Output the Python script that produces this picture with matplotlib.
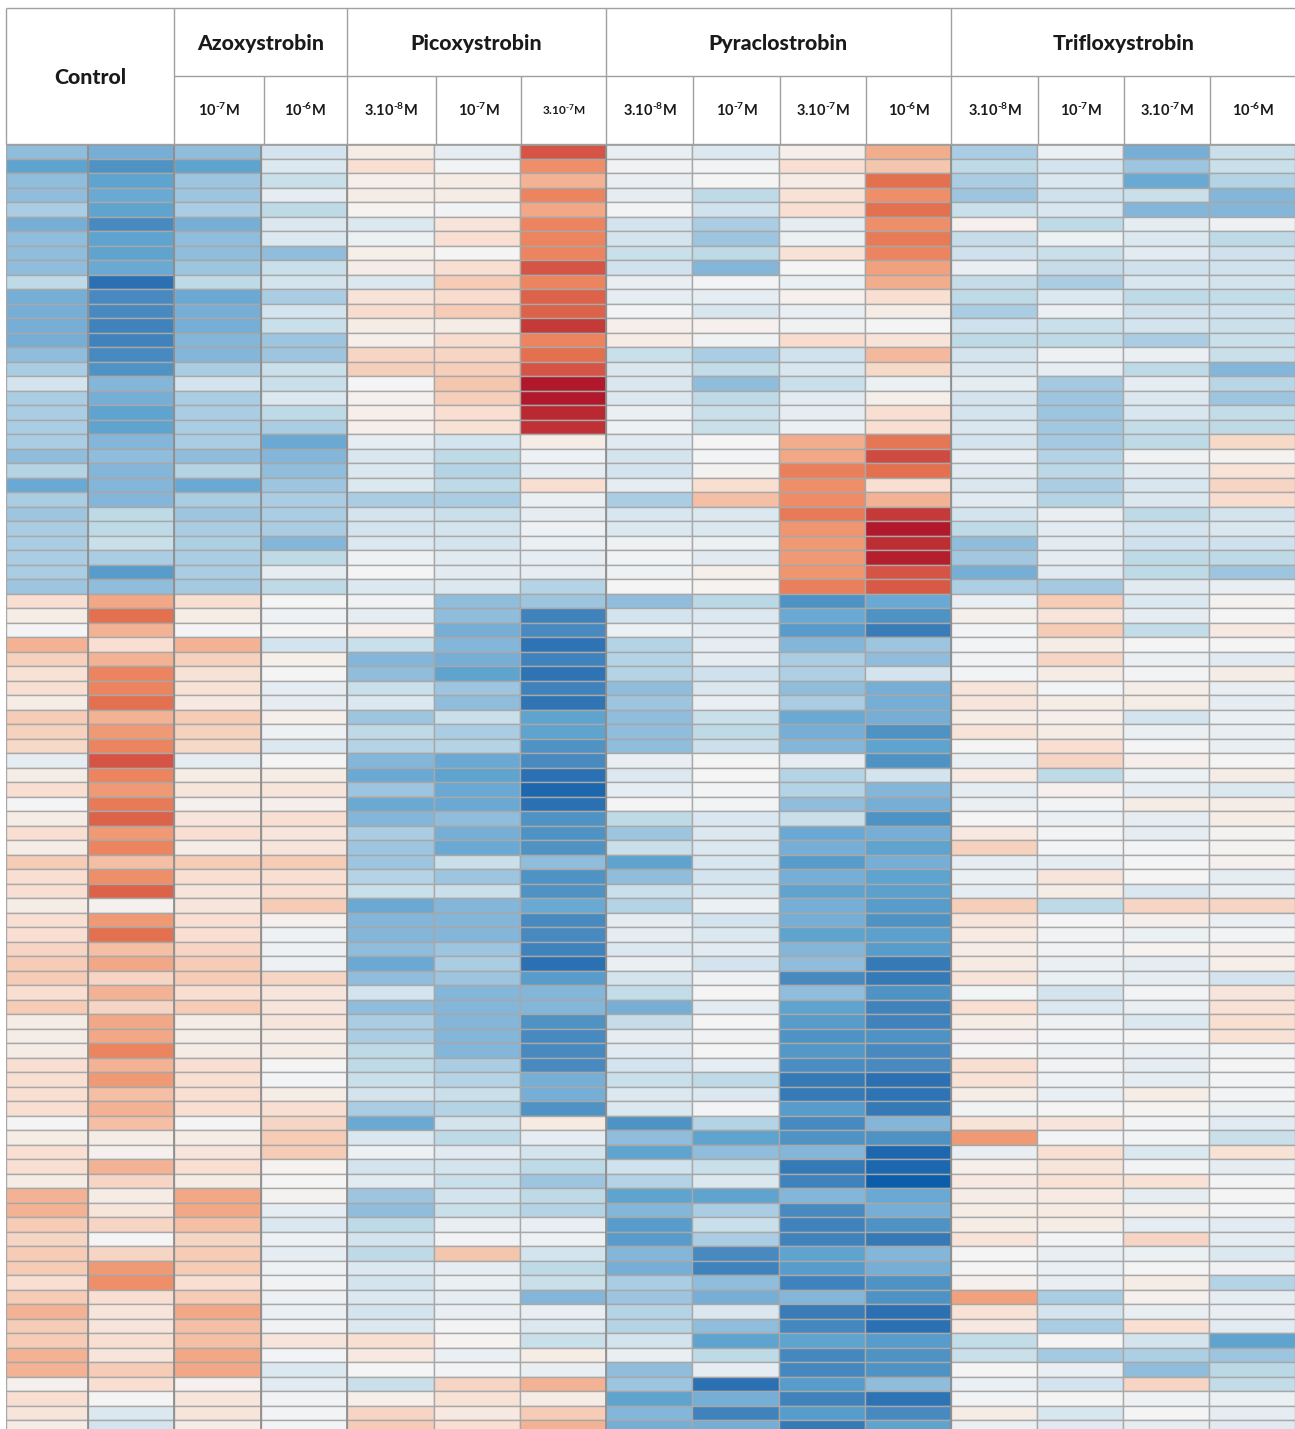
import numpy as np
import matplotlib
matplotlib.use("Agg")
import matplotlib.pyplot as plt
from matplotlib.colors import LinearSegmentedColormap, Normalize

W, H = 1295, 1429
plt.rcParams['font.family'] = ['Lato', 'DejaVu Sans']
plt.rcParams['mathtext.fontset'] = 'custom'
plt.rcParams['mathtext.rm'] = 'Lato:bold'
plt.rcParams['mathtext.bf'] = 'Lato:bold'
plt.rcParams['mathtext.default'] = 'rm'

groups = ["Control", "Azoxystrobin", "Picoxystrobin", "Pyraclostrobin", "Trifloxystrobin"]
dose_labels = [r"10$^{\text{-7}}$M", r"10$^{\text{-6}}$M", r"3.10$^{\text{-8}}$M", r"10$^{\text{-7}}$M", r"3.10$^{\text{-7}}$M",
               r"3.10$^{\text{-8}}$M", r"10$^{\text{-7}}$M", r"3.10$^{\text{-7}}$M", r"10$^{\text{-6}}$M",
               r"3.10$^{\text{-8}}$M", r"10$^{\text{-7}}$M", r"3.10$^{\text{-7}}$M", r"10$^{\text{-6}}$M"]

control_1 = [-5,-7,-5,-5,-4,-6,-5,-5,-5,-3,-6,-6,-6,-6,-5,-4,-2,-4,-4,-4,-4,-5,
 -3.5,-6.5,-4,-4.5,-4,-4,-4,-4,-4.5,2,1,0,4,2.7,1.8,2,1,3,2.7,2.3,
 -1,1,2,0,1,2,1,3,2,2,1,2,2,2.5,3,3,2,3,1,1,1,2,2,
 2,2,0,1,2,2,1,4,4,3,2.5,3,3,2,3,4,3,3,4,4,0.5,2,1.5,1]
control_2 = [-6,-8,-7,-6.5,-7,-8.5,-7,-7,-6.5,-10,-8.5,-8.5,-9,-9,-8.5,-8,-5.5,-6,-7,-7,-5.5,-5,
 -5.5,-5.5,-5.5,-3,-3,-2.5,-4,-7.5,-5,4.5,7,4,2,4,6,6,7,4,5,6,
 8,6,5,6.5,7.5,5,6,3.5,5.5,7.5,0.5,5,7,3.5,4.5,2.5,4,2.5,4.5,4.5,6,4,5,
 3.5,4,3.5,1,0.5,4,2.5,1,1.5,2.5,0,2.5,5,5.5,2,1.5,1.5,2,1.5,3,2,0,-1.5,-2]
azoxy_7 = [-5,-7,-4.5,-4.5,-4,-6,-5,-5,-4.5,-3,-6.5,-6,-6,-5.5,-5.5,-4,-2,-4,-4,-4,-4,-5,
 -3.5,-6.5,-4,-4.5,-4,-3.8,-4,-4,-4.2,2,1,0,4,2.7,1.8,1.8,1.3,3,2.7,2.3,
 -1,1,1.5,0.5,1.5,2,1,3,2,1.5,1.5,2,2,2.5,3,3,2,3,1,1,1,2,2,
 2,2,0,1,1.5,2,1,4.5,4.5,3.5,2.5,3,3,2,3,4.5,3.5,3.5,4.5,4.5,0.5,1.5,1.5,1]
azoxy_6 = [-2,-1.5,-2.5,-1,-3,-1.5,-1.5,-5,-2.5,-2,-4,-2,-2.5,-4.5,-4.5,-2.5,-2.5,-1.5,-3,-4,-6.5,-5.5,
 -5,-4.5,-4,-4,-4,-5.5,-3,-1,-3,0,-0.5,0,-2,0.8,0,-1,-1,0.8,-0.5,-1.5,
 0,1,1.5,0.7,2,1.5,1.5,3,2,2,3,0.5,-0.5,-0.5,-0.5,2.5,1.5,1.5,1.5,1,1,0,-0.2,
 1,2,2.5,3,3,0.3,0,0.2,-1,-1.5,-0.5,-1,-0.5,-0.3,-0.5,-0.7,-0.3,1.5,-0.2,-1.5,-1.2,-0.3,-0.2,-0.1]
pico_8 = [1,2,0.7,1,0.3,-1.5,-0.6,0.8,0.9,-1.5,1.7,2.2,1,0.8,2.5,2.8,0,0.5,0.8,0.7,-1,-1.8,
 -1.7,-1.5,-4,-2,-2,-1.5,-0.5,0,-1.5,-0.3,-1,0.7,-2.5,-5.5,-5,-2.5,-1.5,-4.5,-3,-3.5,
 -5.5,-6.5,-4.5,-6.5,-5.5,-4,-4.5,-4.5,-3.5,-2.5,-6.5,-5.5,-5.5,-5,-6.5,-5,-2,-5,-4,-4,-3,-3,-2.5,
 -2,-4,-6.5,-1.7,-0.5,-2,-1.2,-4.5,-5,-3,-2,-3,-1.5,-2,-1.5,-2,-1.5,2,1.3,0,-2.5,0.8,2.5,3]
pico_7 = [-1,-0.2,1,1,-0.3,1.5,2,0,2,3,2.2,3,1,2.2,2.5,2.8,3.2,2.8,2,1.8,-2,-3,
 -3.5,-3,-4,-2.5,-2,-2,-1.3,-1.2,-1.5,-5,-5,-6,-5.5,-6,-7,-4.5,-5,-2.5,-4,-3.5,
 -6.5,-7,-6.5,-6.5,-5,-6,-6.5,-2.5,-4.5,-2.5,-5.5,-5.5,-5.5,-4.5,-4,-4.5,-5.5,-5.5,-5.5,-5.5,-5.5,-4,-3.5,
 -2.5,-3.5,-2,-3,-1.3,-2,-2.5,-2,-2.5,-0.8,-0.3,3.2,-1,-0.7,-1,-0.8,-0.2,0.3,-0.7,-0.2,2.5,1.8,1.3,2]
pico_3_7 = [8,5.5,4,6,4.5,6,6,6,8,6,7.5,7.5,9,6,7,8,10,10,9.5,9.2,1,-0.5,
 -1,2,-0.7,-1,-0.5,-0.7,-1,-1,-3.5,-4.5,-9,-8.5,-9.8,-9,-9.8,-9,-9.7,-7,-7,-8,
 -8.5,-10,-10.5,-10,-8,-8,-8,-5,-8,-8,-6.5,-8.5,-8.5,-9,-10,-7.5,-5.5,-5.5,-8,-8.5,-8.5,-8.5,-6,
 -6,-8,1.2,-1,-2,-3,-4.5,-3,-3.5,-0.8,-0.5,-2,-3,-2.5,-5.5,-0.8,-1.5,-2.5,1,-0.8,4,1,3,4]
pyra_8 = [-0.8,-0.3,-0.8,-1,-0.2,-2,-2,-2.5,-2.2,-0.8,-1,-0.1,0.7,1,-2.5,-1.7,-1.7,-1.5,-0.7,-0.5,-1.3,-2,
 -2,-1,-4,-1.8,-1.5,-0.5,-0.3,-0.5,0,-5,-2,-0.6,-3.5,-3.5,-3.5,-5,-4.5,-5,-5,-5,
 -0.9,-1.5,-1,0,-3,-4.5,-2.5,-7,-5,-2.5,-3.5,-1,-1,-1.5,-0.7,-2,-2.8,-6,-2.7,-1,-1.3,-2,-2.5,
 -1.5,-1.5,-8,-5,-7,-2.2,-3.5,-7,-5.5,-7.5,-7.5,-5.5,-6,-4,-4.5,-3.5,-3.5,-2,-0.9,-5,-4.5,-7,-5.5,-6]
pyra_7 = [-1.5,-0.2,0,-3,-2.2,-4,-4.5,-3,-5.5,-0.2,-1,-1.8,0.5,-0.4,-4,-2.8,-5,-3,-2.5,-2.5,0,-0.2,
 0.2,2,3.5,-1.5,-1.5,-0.6,-1.3,0.8,0.3,-3.2,-1.5,-1,-1,-1,-2.3,-1.7,-0.8,-2.5,-3,-2.4,
 0,0,-0.1,-0.2,-1.6,-1.5,-1.5,-1.8,-2,-1.7,-0.6,-2,-1.5,-1.2,-2,-0.5,0,-1.2,0,-0.4,0,-1,-3,
 -1.5,-0.2,-3.5,-7,-5,-2.5,-1.5,-7,-4,-2.5,-4,-8.5,-9,-5,-6,-1.7,-5,-7,-3,-1,-10,-6,-9,-6]
pyra_3_7 = [0.7,2,1,1.8,2,-1,-0.6,1.8,0,-0.7,0.5,-0.8,-0.4,2.2,-2.2,-1.8,-2.5,-1.2,-1,-0.6,4.2,4.5,
 6.3,5.5,5.7,6.5,5.3,5,5,5.3,6.3,-8,-6.5,-7.5,-5.5,-4,-3.7,-5,-4,-6.5,-6,-5.5,
 -1,-3.5,-3.5,-5,-2.5,-6.5,-6,-7.5,-6,-7,-6,-6,-7,-5.5,-5,-8.5,-5,-7,-7.5,-8,-7.8,-8.3,-9.5,
 -9.5,-7.5,-8.5,-8,-5.5,-9.5,-9,-5.5,-8.5,-9,-9,-7,-7.5,-9,-5.5,-9.3,-8.7,-7,-8.7,-8.7,-7.5,-9,-7.5,-9.5]
pyra_6 = [4.2,3.2,7,5.5,7,5.5,6.5,6,4.7,4.2,2,1,0,1.7,3.7,2.3,-0.6,0.8,2,2,6.7,8.3,
 7,2,4,9,10,9.3,9.8,8,7.8,-6.5,-8,-9.3,-4.5,-5,-2,-6,-6,-6,-8,-7,
 -8,-2,-5.5,-6,-8,-6,-7,-6,-7,-7.2,-7.5,-8,-7.2,-7.5,-9.5,-9.5,-8,-9,-9,-8,-8.5,-8.5,-10,
 -9.8,-9.5,-5.5,-8,-10.5,-10.5,-11,-6.5,-6,-8,-9.5,-5.5,-6,-8,-8,-10,-10,-7.5,-8,-8,-5,-9.8,-8.5,-7]
triflo_8 = [-4,-3,-4,-4.5,-2.5,0.5,-2.7,-2.3,-0.8,-2.7,-3,-4,-2.3,-3,-2,-1.7,-1,-2,-2,-1.7,-2,-0.9,
 -1.3,-1.7,-1.3,-2,-3,-5,-4.3,-6,-3.8,-0.8,0.6,-0.2,-0.2,-0.3,-0.2,1.5,1.5,1,1.7,0,
 -0.9,1.2,-1,-0.7,0,1.3,2.7,-1,-0.7,-1,2.8,1.6,1.2,1,1.2,1.7,-0.2,2,1,0.5,0,2,1.8,
 1,-0.3,1.7,5,-0.9,0.8,1.3,1,1,1,1.7,0,0,0.5,4.7,1.8,1.3,-2.8,-2.5,0,-0.7,-0.2,1,-0.7]
triflo_7 = [-0.7,-2,-1.7,-2.3,-1.8,-3,-0.6,-2.5,-2.7,-4,-1.5,-0.7,-2.5,-3,-0.5,-1,-4.2,-4.5,-4.5,-4.3,-4.2,-3.6,
 -3.2,-4,-3.5,-0.9,-1.2,-1.2,-1.1,-1.3,-4.2,3,1.5,3,1,2.5,1,-0.2,1,0.7,1,2,
 2.5,-3,0.5,-0.2,-0.7,-0.2,-0.2,-1,1.5,1,-3,0,-0.3,-0.3,-0.7,-0.7,-2,-1.5,-0.5,-0.2,-0.5,-0.3,-0.5,
 -0.8,0,1.5,-0.2,2,1.5,1.8,1.2,1.2,1,-0.1,-0.8,-0.7,-0.9,-4,-2,-4,0,-4.2,-0.8,-2,0,-1.8,-1.3]
triflo_3_7 = [-6,-4.5,-6.5,-2.5,-5.5,-1,-1.5,-1.2,-2.3,-1.8,-3,-2.3,-2,-4,-0.7,-3,-1,-1.7,-1.8,-2.8,-3,-0.4,
 -1.2,-1.8,-1.7,-3,-2,-2.3,-3,-3,-1.3,-1.5,-1,-2.8,0,-0.7,-0.1,1,1,-2,-0.7,0,
 0.7,-0.6,-1,1,-1,-1,-0.2,0,0,-1.6,2.5,0.7,-0.6,0.3,-1,-1,-0.2,-0.8,-1.5,0,-0.7,-1,-1,
 1,0.3,-0.2,-0.2,-1.5,-0.2,1.8,-1,0.6,-1,2.5,-0.6,0,1,0.5,-0.8,2,-2,-3.8,-5,2.5,-0.5,0,-1]
triflo_6 = [-2.5,-2.5,-3.5,-5.5,-5.5,-0.5,-3,-2.3,-2.2,-2,-2.8,-2.3,-2.4,-2.5,-2.5,-5.5,-3.3,-4.5,-2.8,-3,2.3,0.2,
 1.7,2.5,2.2,-2,-1.7,-2.3,-3,-4.5,-0.9,0.2,0,1.3,0,-1.3,1,-0.9,-1,-0.7,-0.8,-0.8,
 0,1,-1.5,1,1,0.2,0.2,0.5,-1,-0.8,2.5,-0.7,-0.2,0.7,0.8,-2,1.5,1.8,2,1.8,-0.3,0,-0.1,
 -0.2,-0.6,-1.2,-2.5,1.8,-1,-0.2,0,-0.2,-1.2,-1,-1.5,-0.4,-3.5,-1,-0.8,-1.2,-7,-4.5,-3.2,-2.8,-0.6,-1,-1.3]

columns = [control_1, control_2, azoxy_7, azoxy_6, pico_8, pico_7, pico_3_7, pyra_8, pyra_7,
           pyra_3_7, pyra_6, triflo_8, triflo_7, triflo_3_7, triflo_6]
for c in columns:
    assert len(c) == 89, len(c)
values = np.array(columns).T

anchors = [(-11,'#0d5eaa'),(-10,'#2b70b2'),(-9,'#4082bc'),(-8,'#5094c5'),(-7,'#5fa5d0'),(-6,'#77afd6'),
           (-5,'#90bddb'),(-4,'#aacde3'),(-3,'#bfdae7'),(-2,'#d4e4ee'),(-1,'#e6edf2'),(0,'#f4f4f4'),
           (1,'#f6ece6'),(2,'#f8dfd2'),(3,'#f6ccb6'),(4,'#f3b294'),(5,'#f09b76'),(6,'#ec8660'),
           (7,'#e4714f'),(8,'#d55545'),(9,'#c33a39'),(10,'#b2182b')]
vmin, vmax = -11, 10
cmap = LinearSegmentedColormap.from_list('rb', [((v-vmin)/(vmax-vmin), c) for v, c in anchors])

fig = plt.figure(figsize=(W/100, H/100), dpi=100, facecolor='white')

# heat map
top, row_h = 144, 14.5
ax = fig.add_axes([6/W, 0, (W-6)/W, (H-top)/H])
x_edges = [6, 88, 174, 261, 347, 434, 520, 606, 692, 779, 865, 951, 1037, 1123, 1209, 1295]
y_edges = np.arange(values.shape[0]+1)
ax.pcolormesh(x_edges, y_edges, values, cmap=cmap, norm=Normalize(vmin, vmax),
              edgecolors='#a8a8a8', linewidth=1.0, antialiased=True)
ax.set_xlim(6, W)
ax.set_ylim((H-top)/row_h, 0)
ax.axis('off')
ax.vlines([88, 174, 261, 347, 606, 951], 0, 89, color='#8c8c8c', lw=1.2)
ax.hlines(0, 6, W, color='#999999', lw=1.8)

# header
hd = fig.add_axes([0, 0, 1, 1], facecolor='none')
hd.set_xlim(0, W); hd.set_ylim(H, 0); hd.axis('off')
lc, lw = '#a0a0a0', 1.0
hd.hlines(8, 6, W, color=lc, lw=lw)
hd.hlines(76, 174, W, color=lc, lw=lw)
hd.hlines(144, 6, W, color=lc, lw=lw)
hd.vlines([6, 174, 347, 606, 951], 8, 144, color=lc, lw=lw)
hd.vlines([264, 436, 521, 693, 780, 866, 1038, 1124, 1210], 76, 144, color=lc, lw=lw)

group_x = [90, 261, 476, 778, 1124]
group_y = [77, 43, 43, 43, 43]
for g, x, y in zip(groups, group_x, group_y):
    hd.text(x, y, g, ha='center', va='center', fontsize=15.3, fontweight='black', color='#1a1a1a')
dose_x = [219, 305, 391, 479, 564, 650, 737, 823, 909, 995, 1081, 1167, 1253]
for i, (d, x) in enumerate(zip(dose_labels, dose_x)):
    hd.text(x, 110, d, ha='center', va='center', fontsize=8.5 if i == 4 else 10.5,
            fontweight='bold', color='#1a1a1a')

fig.savefig('out.png', dpi=100, facecolor='white')
